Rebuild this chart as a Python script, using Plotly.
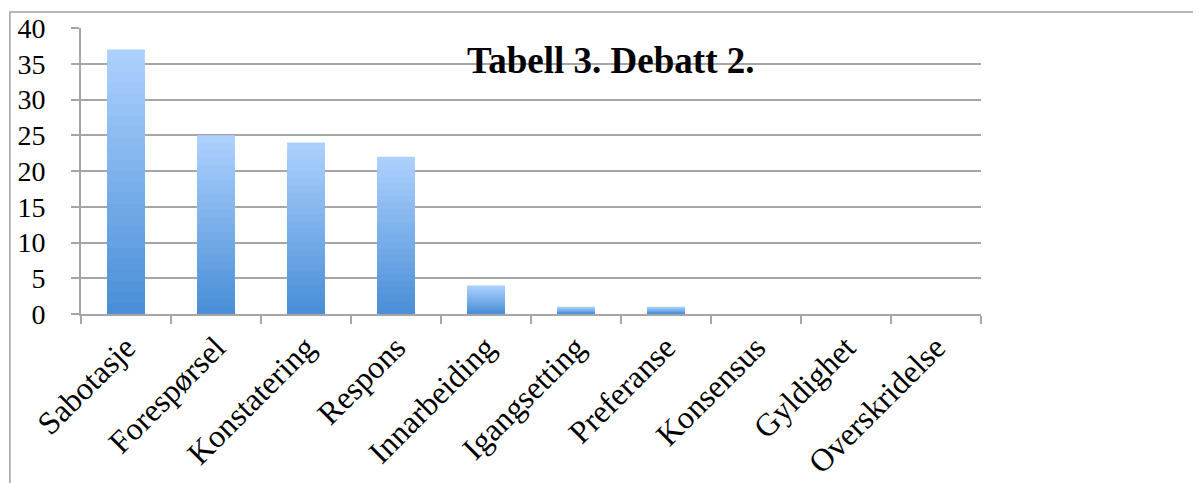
import plotly.graph_objects as go

# Kategorier og verdier (Tabell 3. Debatt 2.)
kategorier = ['Sabotasje', 'Forespørsel', 'Konstatering', 'Respons', 'Innarbeiding',
              'Igangsetting', 'Preferanse', 'Konsensus', 'Gyldighet', 'Overskridelse']
verdier = [37, 25, 24, 22, 4, 1, 1, 0, 0, 0]
y_ticks = [0, 5, 10, 15, 20, 25, 30, 35, 40]

FONT = 'Liberation Serif'
GRID = '#a6a6a6'


def bland(c1, c2, t):
    # lineær blanding av to hex-farger
    a = [int(c1[i:i + 2], 16) for i in (1, 3, 5)]
    b = [int(c2[i:i + 2], 16) for i in (1, 3, 5)]
    return '#' + ''.join(f'{round(x + (y - x) * t):02x}' for x, y in zip(a, b))


fig = go.Figure()

# Gradient i søylene: lyseblå øverst, mørkere blå nederst (overlagte søyler)
topp, bunn = '#acd0fd', '#4a8fd8'
n = 24
for k in range(n):
    andel = (n - k) / n
    fig.add_trace(go.Bar(
        x=kategorier,
        y=[v * andel for v in verdier],
        width=0.42,
        marker=dict(color=bland(topp, bunn, k / (n - 1)), line=dict(width=0)),
        showlegend=False,
        hoverinfo='skip' if k else None,
    ))

fig.add_annotation(
    text='<b>Tabell 3. Debatt 2.</b>',
    xref='paper', yref='paper', x=0.588, y=0.885,
    xanchor='center', yanchor='middle',
    showarrow=False, font=dict(family=FONT, size=37, color='black'),
)

# ramme rundt hele diagrammet
fig.add_shape(type='rect', xref='paper', yref='paper',
              x0=-0.079, x1=1.5, y0=-1.0, y1=1.056,
              line=dict(color='#a0a0a0', width=1.5), layer='below')

fig.update_layout(
    width=1201, height=483,
    margin=dict(l=73, r=228, t=20, b=177),
    barmode='overlay',
    bargap=0.58,
    plot_bgcolor='white', paper_bgcolor='white',
    font=dict(family=FONT, color='black'),
    xaxis=dict(
        type='category',
        automargin=False,
        tickangle=-45,
        tickfont=dict(family=FONT, size=32),
        tickson='boundaries',
        ticks='outside', ticklen=8, tickcolor=GRID, tickwidth=2,
        showline=True, linecolor=GRID, linewidth=2,
        showgrid=False,
    ),
    yaxis=dict(
        automargin=False,
        range=[0, 40],
        tickvals=y_ticks,
        tickfont=dict(family=FONT, size=28),
        ticks='outside', ticklen=8, tickcolor=GRID, tickwidth=2,
        showline=True, linecolor=GRID, linewidth=2,
        showgrid=True, gridcolor=GRID, gridwidth=2,
        zeroline=False,
        ticklabelstandoff=20,
    ),
)

fig.write_html('out.html')
